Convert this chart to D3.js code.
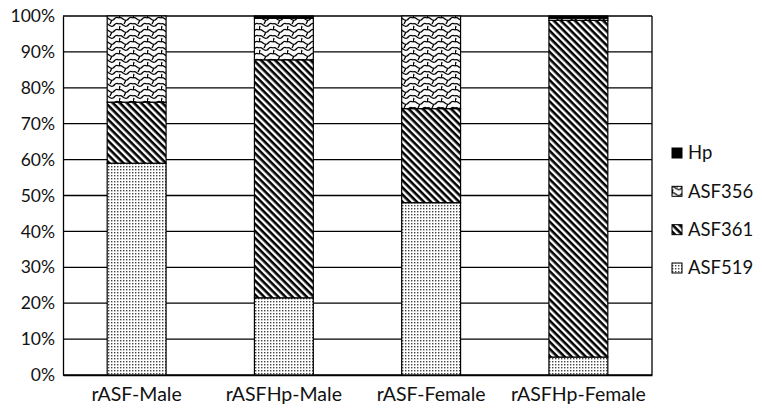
<!DOCTYPE html>
<html>
<head>
<meta charset="utf-8">
<script src="https://cdn.jsdelivr.net/npm/d3@7"></script>
<style>
  body { margin: 0; background: #fff; }
  text { font-family: Lato, "Open Sans", sans-serif; fill: #111; }
</style>
</head>
<body>
<div id="chart"></div>
<script>
// data
const groups = ["rASF-Male", "rASFHp-Male", "rASF-Female", "rASFHp-Female"];
const keys = ["ASF519", "ASF361", "ASF356", "Hp"];
const asf519 = [0.59, 0.215, 0.48, 0.05];
const asf361 = [0.17, 0.663, 0.262, 0.938];
const asf356 = [0.24, 0.116, 0.258, 0.006];
const hp = [0.0, 0.006, 0.0, 0.006];
const yTicks = [0, 0.1, 0.2, 0.3, 0.4, 0.5, 0.6, 0.7, 0.8, 0.9, 1];

const margin = { top: 16, right: 110, bottom: 39, left: 63 },
  W = 762, H = 414,
  width = W - margin.left - margin.right,
  height = H - margin.top - margin.bottom;

const rows = groups.map((g, i) => ({
  group: g, ASF519: asf519[i], ASF361: asf361[i], ASF356: asf356[i], Hp: hp[i]
}));

const x = d3.scaleBand().domain(groups).range([0, width]).paddingInner(0.6).paddingOuter(0.3);
const y = d3.scaleLinear().domain([0, 1]).range([height, 0]);

const svg = d3.select("#chart").append("svg")
  .attr("width", W).attr("height", H);

// patterns
const defs = svg.append("defs");
const p519 = defs.append("pattern").attr("id", "p519")
  .attr("patternUnits", "userSpaceOnUse").attr("width", 3).attr("height", 3);
p519.append("rect").attr("width", 3).attr("height", 3).attr("fill", "#fff");
p519.append("rect").attr("width", 1.4).attr("height", 1.4).attr("fill", "#444");

const p361 = defs.append("pattern").attr("id", "p361")
  .attr("patternUnits", "userSpaceOnUse").attr("width", 5).attr("height", 5)
  .attr("patternTransform", "rotate(45)");
p361.append("rect").attr("width", 5).attr("height", 5).attr("fill", "#fff");
p361.append("rect").attr("width", 5).attr("height", 2.6).attr("fill", "#000");

const p356 = defs.append("pattern").attr("id", "p356")
  .attr("patternUnits", "userSpaceOnUse").attr("width", 14).attr("height", 12);
p356.append("rect").attr("width", 14).attr("height", 12).attr("fill", "#fafafa");
p356.append("path")
  .attr("d", "M0,2 C3,0 5,6 8,4 C10,3 10,0 14,2 M0,8 C3,6 5,12 8,10 C10,9 10,6 14,8 M7,4 L5,8 M1,-2 L0,2 M1,10 L0,14")
  .attr("fill", "none").attr("stroke", "#000").attr("stroke-width", 1.3);

const fills = { ASF519: "url(#p519)", ASF361: "url(#p361)", ASF356: "url(#p356)", Hp: "#000" };

const g = svg.append("g").attr("transform", `translate(${margin.left},${margin.top})`);

// gridlines
g.selectAll(".grid").data(yTicks).enter().append("line")
  .attr("x1", 0).attr("x2", width)
  .attr("y1", d => y(d)).attr("y2", d => y(d))
  .attr("stroke", "#000").attr("stroke-width", 1.3);

// right border
g.append("line").attr("x1", width).attr("x2", width).attr("y1", 0).attr("y2", height)
  .attr("stroke", "#000").attr("stroke-width", 1.3);

// stacked bars
const stacked = d3.stack().keys(keys)(rows);
g.selectAll(".layer").data(stacked).enter().append("g")
  .attr("fill", d => fills[d.key])
  .selectAll("rect").data(d => d).enter().append("rect")
  .attr("x", d => x(d.data.group))
  .attr("width", x.bandwidth())
  .attr("y", d => y(d[1]))
  .attr("height", d => y(d[0]) - y(d[1]))
  .attr("stroke", "#000").attr("stroke-width", 1.2);

// y axis
const yAxis = g.append("g")
  .call(d3.axisLeft(y).tickValues(yTicks).tickFormat(d3.format(".0%")).tickSize(0).tickPadding(8));
yAxis.select(".domain").attr("stroke", "#000").attr("stroke-width", 1.3);
yAxis.selectAll("text").attr("font-size", 17.5).style("font-family", "Lato, sans-serif");

// x axis
const xAxis = g.append("g").attr("transform", `translate(0,${height})`)
  .call(d3.axisBottom(x).tickSize(0).tickPadding(12));
xAxis.select(".domain").attr("stroke", "#000").attr("stroke-width", 1.3);
xAxis.selectAll("text").attr("font-size", 19.5).style("font-family", "Lato, sans-serif");

// legend
const legendKeys = ["Hp", "ASF356", "ASF361", "ASF519"];
const legendY = d3.scalePoint().domain(legendKeys).range([153, 268]);
const legend = svg.append("g").selectAll("g").data(legendKeys).enter().append("g")
  .attr("transform", d => `translate(672,${legendY(d)})`);
legend.append("rect").attr("x", 0).attr("y", -5).attr("width", 10).attr("height", 10)
  .attr("fill", d => fills[d]).attr("stroke", "#000").attr("stroke-width", 1);
legend.append("text").attr("x", 16).attr("y", 0).attr("dy", "0.35em")
  .attr("font-size", 18.5).text(d => d);
</script>
</body>
</html>
